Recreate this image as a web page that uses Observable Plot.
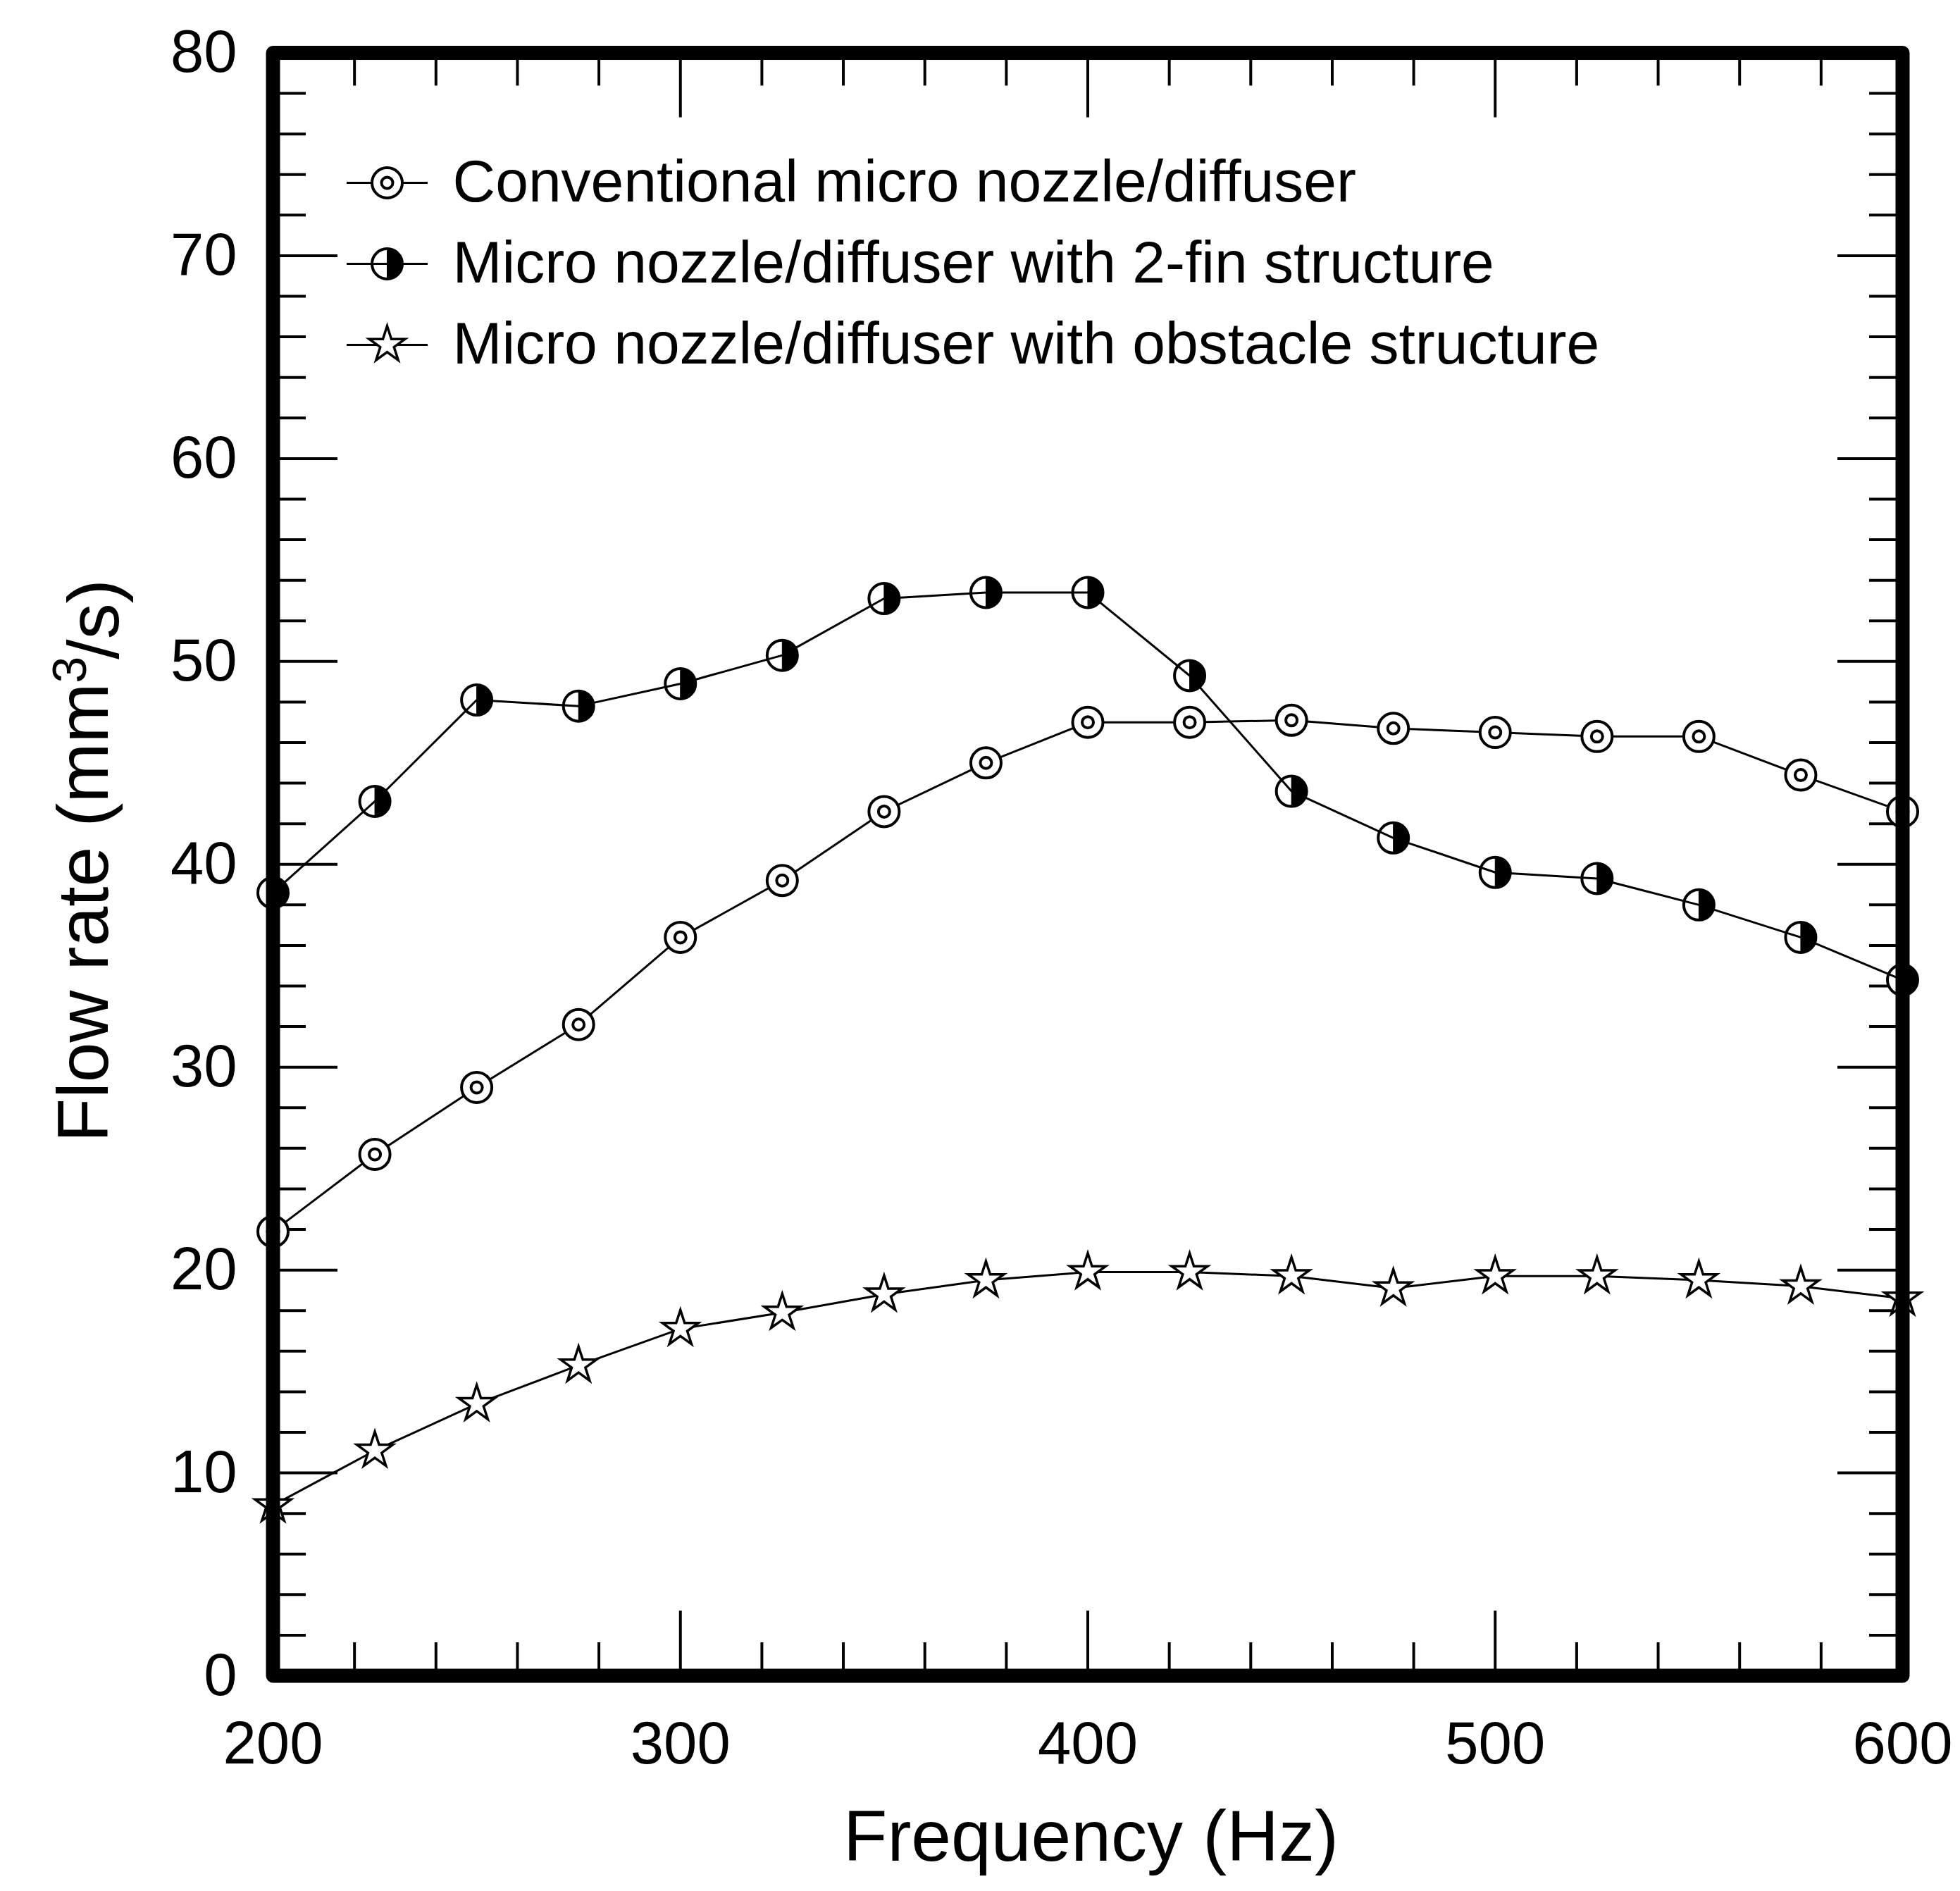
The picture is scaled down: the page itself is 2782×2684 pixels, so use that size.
<!DOCTYPE html>
<html>
<head>
<meta charset="utf-8">
<script src="https://cdn.jsdelivr.net/npm/d3@7"></script>
<script src="https://cdn.jsdelivr.net/npm/@observablehq/plot@0.6"></script>
<style>
  html, body { margin: 0; padding: 0; background: #fff; }
</style>
</head>
<body>
<div id="chart"></div>
<script>
// ---- data ----
const frequencies = [200, 225, 250, 275, 300, 325, 350, 375, 400, 425, 450, 475, 500, 525, 550, 575, 600];
const conventional = [21.9, 25.7, 29.0, 32.1, 36.4, 39.2, 42.6, 45.0, 47.0, 47.0, 47.1, 46.7, 46.5, 46.3, 46.3, 44.4, 42.6];
const twoFin = [38.6, 43.1, 48.1, 47.8, 48.9, 50.3, 53.1, 53.4, 53.4, 49.3, 43.6, 41.3, 39.6, 39.3, 38.0, 36.4, 34.3];
const obstacle = [8.4, 11.1, 13.4, 15.3, 17.1, 17.9, 18.8, 19.5, 19.9, 19.9, 19.7, 19.1, 19.7, 19.7, 19.5, 19.2, 18.6];
const seriesNames = [
  "Conventional micro nozzle/diffuser",
  "Micro nozzle/diffuser with 2-fin structure",
  "Micro nozzle/diffuser with obstacle structure"
];
const xTickLabels = [200, 300, 400, 500, 600];
const yTickLabels = [0, 10, 20, 30, 40, 50, 60, 70, 80];
const xMinorTicks = d3.range(200, 601, 20).filter(v => v % 100 !== 0);
const yMinorTicks = d3.range(0, 81, 2).filter(v => v % 10 !== 0);
const xTitle = "Frequency (Hz)";
const yTitleParts = ["Flow rate (mm", "3", "/s)"];
const yTitle = yTitleParts.join("");

// ---- layout ----
const W = 2782, H = 2684;
const mL = 387, mR = 82, mT = 74.5, mB = 306;
const iw = W - mL - mR, ih = H - mT - mB;
const MAJ = 92, MIN = 47;
const FONT = "'Liberation Sans', Arial, Helvetica, sans-serif";

const rowsOf = vals => frequencies.map((f, i) => ({f, v: vals[i]}));
const convRows = rowsOf(conventional);
const finRows = rowsOf(twoFin);
const obsRows = rowsOf(obstacle);

// custom symbols
const rightHalf = {draw(ctx, size) {
  const r = Math.sqrt(size / Math.PI);
  ctx.moveTo(0, -r);
  ctx.arc(0, 0, r, -Math.PI / 2, Math.PI / 2);
  ctx.closePath();
}};
const hline = {draw(ctx, size) {
  const r = Math.sqrt(size / Math.PI);
  ctx.moveTo(-r, 0);
  ctx.lineTo(r, 0);
}};

const tickStyle = {stroke: "black", strokeWidth: 4};
const lineStyle = {stroke: "black", strokeWidth: 3};
const mStroke = 4;
const R_OUT = 21.5, R_IN = 8, R_STAR = 16;

const marks = [];
// inward ticks on all four sides
marks.push(
  Plot.tickY(yTickLabels, {y: d => d, insetRight: iw - MAJ, ...tickStyle}),
  Plot.tickY(yMinorTicks, {y: d => d, insetRight: iw - MIN, ...tickStyle}),
  Plot.tickY(yTickLabels, {y: d => d, insetLeft: iw - MAJ, ...tickStyle}),
  Plot.tickY(yMinorTicks, {y: d => d, insetLeft: iw - MIN, ...tickStyle}),
  Plot.tickX(xTickLabels, {x: d => d, insetTop: ih - MAJ, ...tickStyle}),
  Plot.tickX(xMinorTicks, {x: d => d, insetTop: ih - MIN, ...tickStyle}),
  Plot.tickX(xTickLabels, {x: d => d, insetBottom: ih - MAJ, ...tickStyle}),
  Plot.tickX(xMinorTicks, {x: d => d, insetBottom: ih - MIN, ...tickStyle})
);
// tick labels
marks.push(
  Plot.axisX({ticks: xTickLabels, tickSize: 0, tickPadding: 64, fontSize: 85, label: null}),
  Plot.axisY({ticks: yTickLabels, tickSize: 0, tickPadding: 51, fontSize: 85, label: null})
);
// 2-fin series: markers, then line over them
marks.push(
  Plot.dot(finRows, {x: "f", y: "v", r: R_OUT, fill: "white", stroke: "black", strokeWidth: mStroke}),
  Plot.dot(finRows, {x: "f", y: "v", r: R_OUT, symbol: rightHalf, fill: "black", stroke: "black", strokeWidth: 1}),
  Plot.line(finRows, {x: "f", y: "v", ...lineStyle})
);
// conventional series
marks.push(
  Plot.line(convRows, {x: "f", y: "v", ...lineStyle}),
  Plot.dot(convRows, {x: "f", y: "v", r: R_OUT, fill: "white", stroke: "black", strokeWidth: mStroke}),
  Plot.dot(convRows, {x: "f", y: "v", r: R_IN, fill: "none", stroke: "black", strokeWidth: mStroke})
);
// obstacle series
marks.push(
  Plot.line(obsRows, {x: "f", y: "v", ...lineStyle}),
  Plot.dot(obsRows, {x: "f", y: "v", r: R_STAR, symbol: "star", fill: "white", stroke: "black", strokeWidth: 3.5})
);

// legend (pixel offsets from the top-left corner of the frame)
const legRow0 = 184.5, legStep = 115, legSymDx = 162, legTextDx = 255;
seriesNames.forEach((name, i) => {
  const dy = legRow0 + i * legStep;
  const at = {frameAnchor: "top-left", dx: legSymDx, dy};
  if (i === 1) {
    marks.push(
      Plot.dot([name], {...at, r: R_OUT, fill: "white", stroke: "black", strokeWidth: mStroke}),
      Plot.dot([name], {...at, r: R_OUT, symbol: rightHalf, fill: "black", stroke: "black", strokeWidth: 1}),
      Plot.dot([name], {...at, r: 57.5, symbol: hline, fill: "none", ...lineStyle})
    );
  } else if (i === 0) {
    marks.push(
      Plot.dot([name], {...at, r: 57.5, symbol: hline, fill: "none", ...lineStyle}),
      Plot.dot([name], {...at, r: R_OUT, fill: "white", stroke: "black", strokeWidth: mStroke}),
      Plot.dot([name], {...at, r: R_IN, fill: "none", stroke: "black", strokeWidth: mStroke})
    );
  } else {
    marks.push(
      Plot.dot([name], {...at, r: 57.5, symbol: hline, fill: "none", ...lineStyle}),
      Plot.dot([name], {...at, r: R_STAR, symbol: "star", fill: "white", stroke: "black", strokeWidth: 3.5})
    );
  }
  marks.push(Plot.text([name], {
    frameAnchor: "top-left", dx: legTextDx, dy, text: d => d,
    textAnchor: "start", lineAnchor: "middle", fontSize: 84, fill: "black"
  }));
});

// axis titles
marks.push(
  Plot.text([xTitle], {frameAnchor: "bottom", text: d => d, textAnchor: "middle", lineAnchor: "bottom",
    dx: 4.5, dy: 262, fontSize: 102, fill: "black"}),
  Plot.text([yTitle], {frameAnchor: "left", text: d => d, textAnchor: "middle", lineAnchor: "bottom",
    rotate: -90, dx: 152 - mL, dy: -5, fontSize: 102, fill: "black"})
);

// heavy frame on top
marks.push(Plot.frame({stroke: "black", strokeWidth: 20, strokeLinejoin: "round"}));

const chart = Plot.plot({
  width: W,
  height: H,
  marginLeft: mL,
  marginRight: mR,
  marginTop: mT,
  marginBottom: mB,
  x: {domain: [200, 600]},
  y: {domain: [0, 80]},
  style: {fontFamily: FONT, background: "white", color: "black", fontSize: "85px"},
  marks
});

// raise the "3" of mm3 as a superscript (still real text)
const yt = Array.from(chart.querySelectorAll("text")).find(e => e.textContent === yTitle);
if (yt) {
  const sel = d3.select(yt);
  sel.text(null);
  sel.append("tspan").text(yTitleParts[0]);
  sel.append("tspan").attr("dy", "-0.45em").attr("font-size", "68px").text(yTitleParts[1]);
  sel.append("tspan").attr("dy", "0.45em").attr("dx", "-4").text(yTitleParts[2]);
}
document.getElementById("chart").appendChild(chart);
</script>
</body>
</html>
